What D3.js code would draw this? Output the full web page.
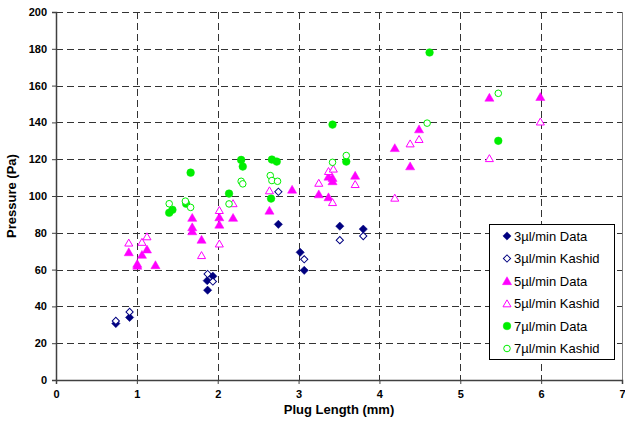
<!DOCTYPE html>
<meta charset="utf-8">
<style>
    body { margin: 0; background: #fff; }
    svg { font-family: Arial, "Liberation Sans", sans-serif; }
    .tick text { font-weight: bold; font-size: 11px; fill: #000; }
    .grid line { stroke: #333; stroke-dasharray: 7,4; shape-rendering: crispEdges; }
</style>
<svg width="625" height="428"></svg>
<script src="https://d3js.org/d3.v7.min.js"></script>
<script>

    // 3 µl/min
    var d3DataX = [0.74, 0.91, 1.87, 1.94, 1.875, 2.75, 3.02, 3.07, 3.51, 3.80];
    var d3DataY = [30.7, 34, 54, 56.4, 48.8, 84.6, 69.4, 59.6, 83.6, 82];
    var k3X = [0.74, 0.91, 1.875, 1.94, 2.75, 3.07, 3.51, 3.80];
    var k3Y = [32.1, 37, 57.6, 53.5, 102.3, 65.6, 76, 78.2];

    // 5 µl/min
    var d5DataX = [0.90, 1.005, 1.005, 1.063, 1.125, 1.23, 1.685, 1.685, 1.685, 1.80, 2.02, 2.02, 2.19,
        2.64, 2.92, 3.25, 3.37, 3.37, 3.42, 3.42, 3.70, 4.19, 4.38, 4.49, 5.36, 5.99];
    var d5DataY = [69.5, 63.2, 62.2, 68.1, 71, 62.5, 88.2, 83.1, 80.9, 76.3, 88.5, 84.5, 88.2,
        92.1, 103.5, 101, 99.4, 110.6, 109.9, 108.1, 111.1, 126.1, 116.2, 136.3, 153.5, 153.9];
    var k5X = [0.90, 1.063, 1.125, 1.80, 2.02, 2.02, 2.19, 2.64, 3.25, 3.37, 3.43, 3.42, 3.70,
        4.19, 4.38, 4.49, 5.36, 5.99];
    var k5Y = [74.6, 75, 78, 67.8, 92.3, 74.1, 96, 103, 107.1, 113.5, 114.8, 96.6, 106.4,
        99, 128.5, 130.9, 120.5, 140.4];

    // 7 µl/min
    var d7DataX = [1.665, 1.40, 1.44, 1.61, 2.14, 2.29, 2.31, 2.67, 2.73, 2.66, 3.42, 3.59, 4.62, 5.47];
    var d7DataY = [112.7, 90.9, 92.5, 95.8, 101.3, 119.6, 116, 119.8, 118.7, 98.6, 138.8, 118.7, 178, 130];
    var k7X = [1.40, 1.60, 1.665, 2.14, 2.29, 2.31, 2.65, 2.67, 2.74, 3.42, 3.59, 4.59, 5.47];
    var k7Y = [95.8, 97.2, 93.8, 95.7, 108, 106.6, 111.1, 108.4, 108, 118.3, 122, 139.6, 155.8];

    var xTicks = [0, 1, 2, 3, 4, 5, 6, 7];
    var yTicks = [0, 20, 40, 60, 80, 100, 120, 140, 160, 180, 200];

    var svg = d3.select("svg");
    var plotL = 56, plotR = 622, plotT = 12, plotB = 380;

    var x = d3.scaleLinear().domain([0, 7]).range([plotL, plotR]);
    var y = d3.scaleLinear().domain([0, 200]).range([plotB, plotT]);

    // grid
    svg.append("g").attr("class", "grid")
        .selectAll("line").data(yTicks.slice(1)).enter().append("line")
        .attr("x1", plotL).attr("x2", plotR)
        .attr("y1", function (d) { return Math.round(y(d)) + 0.5; })
        .attr("y2", function (d) { return Math.round(y(d)) + 0.5; });
    svg.append("g").attr("class", "grid")
        .selectAll("line").data(xTicks.slice(1, -1)).enter().append("line")
        .attr("y1", plotT).attr("y2", plotB)
        .attr("x1", function (d) { return Math.round(x(d)) + 0.5; })
        .attr("x2", function (d) { return Math.round(x(d)) + 0.5; });

    // right edge of plot area
    svg.append("line")
        .attr("x1", plotR + 0.5).attr("x2", plotR + 0.5)
        .attr("y1", plotT).attr("y2", plotB)
        .attr("stroke", "#808080");

    // axes
    var xAxis = svg.append("g")
        .attr("transform", "translate(0," + plotB + ")")
        .call(d3.axisBottom(x).tickValues(xTicks).tickSize(4).tickPadding(6).tickFormat(d3.format("d")));
    var yAxis = svg.append("g")
        .attr("transform", "translate(" + plotL + ",0)")
        .call(d3.axisLeft(y).tickValues(yTicks).tickSize(4).tickPadding(5).tickFormat(d3.format("d")));
    [xAxis, yAxis].forEach(function (a) {
        a.select(".domain").attr("stroke", "#404040").attr("stroke-width", 1.5);
        a.selectAll(".tick line").attr("stroke", "#404040");
    });

    svg.append("text")
        .attr("x", (plotL + plotR) / 2).attr("y", 414)
        .attr("text-anchor", "middle")
        .attr("font-weight", "bold").attr("font-size", "13px")
        .text("Plug Length (mm)");
    svg.append("text")
        .attr("transform", "translate(16," + (plotT + plotB) / 2 + ") rotate(-90)")
        .attr("text-anchor", "middle")
        .attr("font-weight", "bold").attr("font-size", "13px")
        .text("Pressure (Pa)");

    var series = [
        { name: "3µl/min Data", xs: d3DataX, ys: d3DataY, shape: "diamond", color: "#000080", filled: true },
        { name: "3µl/min Kashid", xs: k3X, ys: k3Y, shape: "diamond", color: "#000080", filled: false },
        { name: "5µl/min Data", xs: d5DataX, ys: d5DataY, shape: "triangle", color: "#ff00ff", filled: true },
        { name: "5µl/min Kashid", xs: k5X, ys: k5Y, shape: "triangle", color: "#ff00ff", filled: false },
        { name: "7µl/min Data", xs: d7DataX, ys: d7DataY, shape: "circle", color: "#00ee00", filled: true },
        { name: "7µl/min Kashid", xs: k7X, ys: k7Y, shape: "circle", color: "#00ee00", filled: false }
    ];

    function symbolPath(shape, filled) {
        if (shape === "diamond") return d3.symbol().type(d3.symbolSquare).size(filled ? 34 : 26)();
        if (shape === "triangle") return d3.symbol().type(d3.symbolTriangle).size(filled ? 36 : 28)();
        return d3.symbol().type(d3.symbolCircle).size(filled ? 46 : 34)();
    }

    function markerTransform(shape, px, py) {
        var t = "translate(" + px + "," + py + ")";
        if (shape === "diamond") t += " rotate(45)";
        if (shape === "triangle") t += " translate(0,1)";
        return t;
    }

    function drawMarker(sel, s) {
        sel.attr("d", symbolPath(s.shape, s.filled))
            .attr("fill", s.filled ? s.color : "#fff")
            .attr("stroke", s.color)
            .attr("stroke-width", s.filled ? 0.5 : 1);
    }

    series.forEach(function (s) {
        var pts = s.xs.map(function (v, i) { return [v, s.ys[i]]; });
        svg.append("g").selectAll("path").data(pts).enter().append("path")
            .call(drawMarker, s)
            .attr("transform", function (d) { return markerTransform(s.shape, x(d[0]), y(d[1])); });
    });

    // legend
    var lg = svg.append("g");
    lg.append("rect")
        .attr("x", 489.5).attr("y", 224.5).attr("width", 125).attr("height", 135)
        .attr("fill", "#fff").attr("stroke", "#000");
    series.forEach(function (s, i) {
        var cy = 236 + i * 22.5;
        lg.append("path").call(drawMarker, s)
            .attr("transform", markerTransform(s.shape, 507, cy));
        lg.append("text")
            .attr("x", 514).attr("y", cy + 4.5)
            .attr("font-size", "13px")
            .text(s.name);
    });

</script>
